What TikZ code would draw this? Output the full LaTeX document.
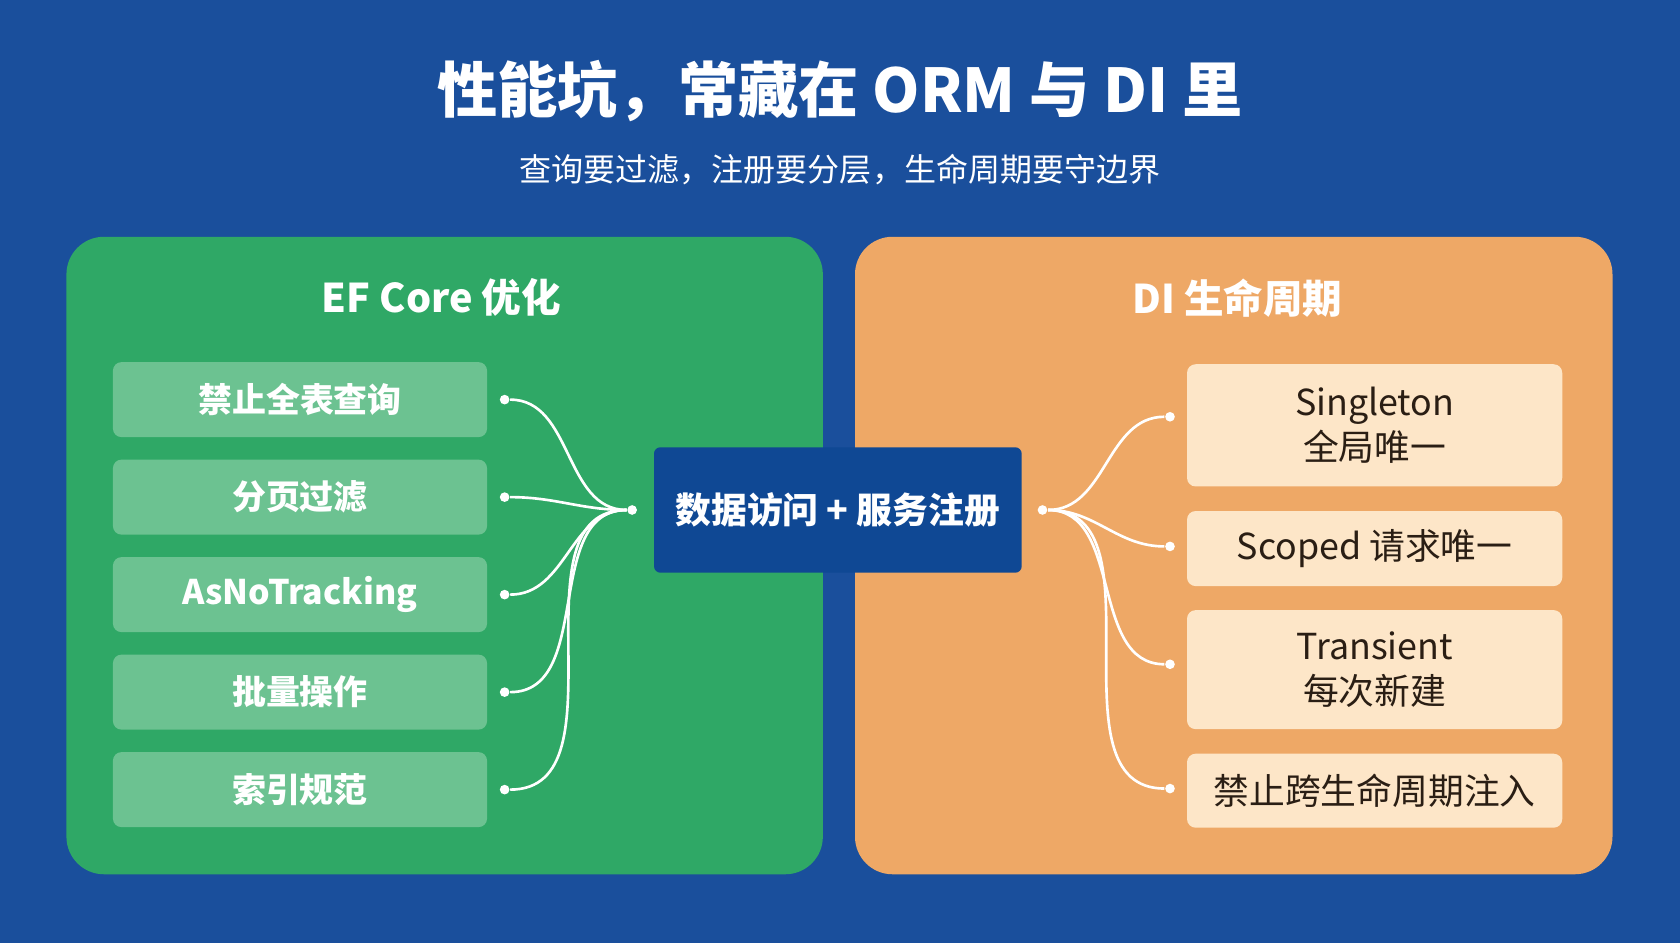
\documentclass[tikz,border=0pt]{standalone}
\usepackage{fontspec}
\setmainfont{Noto Sans CJK SC}
\newfontfamily\cjkbold[BoldFont={Noto Sans CJK SC Bold}]{Noto Sans CJK SC}
\usetikzlibrary{positioning}
\definecolor{bgblue}{HTML}{1A4F9C}
\definecolor{hubblue}{HTML}{0F4894}
\definecolor{efgreen}{HTML}{2FA866}
\definecolor{itemgreen}{HTML}{6CC291}
\definecolor{diorange}{HTML}{EEA866}
\definecolor{itemcream}{HTML}{FDE6C8}
\definecolor{darktext}{HTML}{2A1E14}
\begin{document}
\begin{tikzpicture}[x=0.01cm,y=-0.01cm,
  panel/.style={rounded corners=0.35cm, draw=none},
  efitem/.style={rectangle, rounded corners=0.08cm, fill=itemgreen, minimum width=3.49cm, minimum height=0.70cm, text=white, font=\bfseries\fontsize{9}{11}\selectfont},
  diitem/.style={rectangle, rounded corners=0.08cm, fill=itemcream, minimum width=3.50cm, text=darktext, align=center, font=\fontsize{9.5}{12}\selectfont},
  dot/.style={circle, fill=white, inner sep=0pt, minimum size=0.09cm},
  link/.style={draw=white, line width=0.7pt}]
\fill[bgblue] (0,0) rectangle (1568,880);
\useasboundingbox (0,0) rectangle (1568,880);
\node[text=white, font=\bfseries\fontsize{16}{19}\selectfont] (title) at (784,85) {性能坑，常藏在 ORM 与 DI 里};
\node[text=white, font=\fontsize{8.5}{10}\selectfont] (subtitle) at (784,158) {查询要过滤，注册要分层，生命周期要守边界};
\fill[panel, efgreen] (62,221) rectangle (768,816);
\fill[panel, diorange] (798,221) rectangle (1505,816);
\node[text=white, font=\bfseries\fontsize{10.5}{12}\selectfont] (eftitle) at (412,278) {EF Core 优化};
\node[text=white, font=\bfseries\fontsize{10.5}{12}\selectfont] (dititle) at (1155,278) {DI 生命周期};
% hub
\node[rectangle, rounded corners=0.06cm, fill=hubblue, minimum width=3.43cm, minimum height=1.17cm, text=white, font=\bfseries\fontsize{9.5}{11}\selectfont] (hub) at (782,476) {数据访问 + 服务注册};
\node[dot] (hubL) at (590,476) {};
\node[dot] (hubR) at (973,476) {};
% EF Core items
\foreach \y/\name/\txt in {373/e1/禁止全表查询, 464/e2/分页过滤, 555/e3/AsNoTracking, 646/e4/批量操作, 737/e5/索引规范} {
  \node[efitem] (\name) at (280,\y) {\txt};
  \node[dot] (\name d) at (471,\y) {};
  \draw[link] (\name d) to[out=0,in=180] (hubL);
}
% DI items
\node[diitem, minimum height=1.14cm] (d1) at (1283,397) {Singleton\\全局唯一};
\node[diitem, minimum height=0.70cm] (d2) at (1283,512) {Scoped 请求唯一};
\node[diitem, minimum height=1.11cm] (d3) at (1283,625) {Transient\\每次新建};
\node[diitem, minimum height=0.69cm] (d4) at (1283,738) {禁止跨生命周期注入};
\foreach \y/\name in {389/d1, 510/d2, 620/d3, 736/d4} {
  \node[dot] (\name d) at (1092,\y) {};
  \draw[link] (hubR) to[out=0,in=180] (\name d);
}
\end{tikzpicture}
\end{document}
